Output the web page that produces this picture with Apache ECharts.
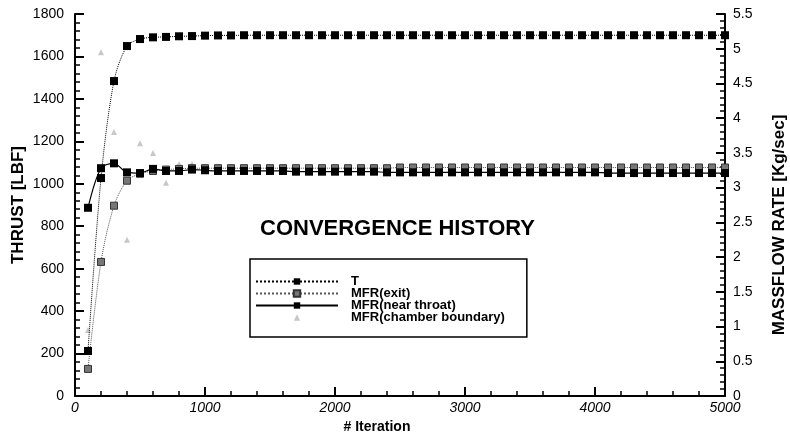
<!DOCTYPE html>
<html>
<head>
<meta charset="utf-8">
<title>Convergence history</title>
<script src="https://cdn.jsdelivr.net/npm/echarts@6/dist/echarts.min.js"></script>
<style>
  html, body { margin: 0; padding: 0; background: #fff; }
  #main { width: 790px; height: 432px; }
</style>
</head>
<body>
<div id="main"></div>
<script>
// iterations (one marker every 100)
var iterations = [100, 200, 300, 400, 500, 600, 700, 800, 900, 1000,
    1100, 1200, 1300, 1400, 1500, 1600, 1700, 1800, 1900, 2000,
    2100, 2200, 2300, 2400, 2500, 2600, 2700, 2800, 2900, 3000,
    3100, 3200, 3300, 3400, 3500, 3600, 3700, 3800, 3900, 4000,
    4100, 4200, 4300, 4400, 4500, 4600, 4700, 4800, 4900, 5000];

// thrust [lbf]
var thrust = [212, 1027, 1484, 1649, 1682, 1690, 1692, 1695, 1696, 1698,
    1699, 1699, 1700, 1700, 1700, 1700, 1700, 1700, 1700, 1700,
    1700, 1700, 1700, 1700, 1700, 1700, 1700, 1700, 1700, 1700,
    1700, 1700, 1700, 1700, 1700, 1700, 1700, 1700, 1700, 1700,
    1700, 1700, 1700, 1700, 1700, 1700, 1700, 1700, 1700, 1700];

// mass flow rates [kg/sec]
var mfrExit = [0.39, 1.93, 2.74, 3.10, 3.20, 3.24, 3.26, 3.27, 3.28, 3.28,
    3.28, 3.28, 3.28, 3.28, 3.28, 3.28, 3.28, 3.28, 3.28, 3.28,
    3.28, 3.28, 3.28, 3.28, 3.29, 3.29, 3.29, 3.29, 3.29, 3.29,
    3.29, 3.29, 3.29, 3.29, 3.29, 3.29, 3.29, 3.29, 3.29, 3.29,
    3.29, 3.29, 3.29, 3.29, 3.29, 3.29, 3.29, 3.29, 3.29, 3.29];

var mfrThroat = [2.71, 3.28, 3.35, 3.22, 3.21, 3.27, 3.24, 3.24, 3.26, 3.25,
    3.24, 3.24, 3.24, 3.24, 3.24, 3.24, 3.23, 3.23, 3.23, 3.23,
    3.23, 3.23, 3.23, 3.22, 3.22, 3.22, 3.22, 3.22, 3.22, 3.22,
    3.22, 3.22, 3.22, 3.22, 3.22, 3.22, 3.22, 3.22, 3.22, 3.22,
    3.21, 3.21, 3.21, 3.21, 3.21, 3.21, 3.21, 3.21, 3.21, 3.21];

var mfrChamber = [0.95, 4.95, 3.80, 2.25, 3.64, 3.50, 3.07, 3.34, 3.34, 3.30,
    3.31, 3.30, 3.30, 3.30, 3.29, 3.29, 3.29, 3.29, 3.29, 3.29,
    3.29, 3.29, 3.28, 3.28, 3.28, 3.28, 3.28, 3.28, 3.28, 3.28,
    3.28, 3.28, 3.28, 3.28, 3.28, 3.28, 3.28, 3.28, 3.28, 3.28,
    3.28, 3.28, 3.28, 3.28, 3.28, 3.28, 3.28, 3.28, 3.28, 3.28];

function pairs(ys) {
    var out = [];
    for (var i = 0; i < iterations.length; i++) {
        out.push([iterations[i], ys[i]]);
    }
    return out;
}

var font = 'Liberation Sans, Arial, Helvetica, sans-serif';

var myChart = echarts.init(document.getElementById('main'), null, {renderer: 'canvas'});

// plain numbers, no thousands separator
function plain(v) { return String(v); }

var axisCommon = {
    axisLine: {show: true, onZero: false, lineStyle: {color: '#000', width: 2}},
    axisTick: {show: true, inside: true, length: 9, lineStyle: {color: '#000', width: 2}},
    minorTick: {show: true, splitNumber: 5, length: 5, lineStyle: {color: '#000', width: 1.5}},
    splitLine: {show: false}
};

var option = {
    backgroundColor: '#fff',
    animation: false,
    title: {
        text: 'CONVERGENCE HISTORY',
        left: 255,
        top: 213,
        textStyle: {fontFamily: font, fontSize: 22, fontWeight: 'bold', color: '#000'}
    },
    legend: {
        orient: 'vertical',
        left: 250,
        top: 259,
        padding: [16, 22, 13, 5],
        itemGap: -1,
        itemWidth: 82,
        itemHeight: 8,
        borderColor: '#000',
        borderWidth: 1.5,
        textStyle: {fontFamily: font, fontSize: 13, fontWeight: 'bold', color: '#000', lineHeight: 12, padding: [0, 0, 0, 8]},
        data: ['T', 'MFR(exit)', 'MFR(near throat)', 'MFR(chamber boundary)']
    },
    grid: {left: 75, right: 65, top: 14, bottom: 36, outerBoundsMode: 'none', containLabel: false},
    xAxis: Object.assign({
        type: 'value',
        min: 0,
        max: 5000,
        interval: 1000,
        name: '# Iteration',
        nameLocation: 'middle',
        nameGap: 19,
        nameTextStyle: {fontFamily: font, fontSize: 14, fontWeight: 'bold', color: '#000', padding: [0, 46, 0, 0]},
        axisLabel: {fontFamily: font, fontSize: 14, fontStyle: 'italic', color: '#000', margin: 5, formatter: plain}
    }, axisCommon),
    yAxis: [
        Object.assign({
            type: 'value',
            position: 'left',
            min: 0,
            max: 1800,
            interval: 200,
            name: 'THRUST [LBF]',
            nameLocation: 'middle',
            nameRotate: 90,
            nameGap: 48,
            nameMoveOverlap: false,
            nameTextStyle: {fontFamily: font, fontSize: 17, fontWeight: 'bold', color: '#000'},
            axisLabel: {fontFamily: font, fontSize: 14, color: '#000', margin: 11, formatter: plain}
        }, axisCommon),
        Object.assign({
            type: 'value',
            position: 'right',
            min: 0,
            max: 5.5,
            interval: 0.5,
            name: 'MASSFLOW RATE [Kg/sec]',
            nameLocation: 'middle',
            nameRotate: 90,
            nameGap: 46,
            nameTextStyle: {fontFamily: font, fontSize: 17, fontWeight: 'bold', color: '#000', padding: [0, 40, 0, 0]},
            axisLabel: {fontFamily: font, fontSize: 14, color: '#000', margin: 8, formatter: plain}
        }, axisCommon)
    ],
    series: [
        {
            name: 'T',
            type: 'line',
            yAxisIndex: 0,
            smooth: 0.3,
            symbol: 'rect',
            symbolSize: 8,
            itemStyle: {color: '#000'},
            lineStyle: {color: '#000', width: 1, type: 'dotted'},
            data: pairs(thrust),
            z: 4
        },
        {
            name: 'MFR(exit)',
            type: 'line',
            yAxisIndex: 1,
            smooth: 0.3,
            symbol: 'rect',
            symbolSize: 7,
            itemStyle: {color: '#777', borderColor: '#333', borderWidth: 1},
            lineStyle: {color: '#555', width: 1, type: 'dotted'},
            data: pairs(mfrExit),
            z: 3
        },
        {
            name: 'MFR(near throat)',
            type: 'line',
            yAxisIndex: 1,
            smooth: 0.3,
            symbol: 'rect',
            symbolSize: 8,
            itemStyle: {color: '#000'},
            lineStyle: {color: '#000', width: 1.2, type: 'solid'},
            data: pairs(mfrThroat),
            z: 5
        },
        {
            name: 'MFR(chamber boundary)',
            type: 'line',
            yAxisIndex: 1,
            symbol: 'triangle',
            symbolSize: 6,
            itemStyle: {color: '#c8c8c8'},
            lineStyle: {width: 0, opacity: 0},
            data: pairs(mfrChamber),
            z: 2
        }
    ]
};

myChart.setOption(option);
</script>
</body>
</html>
